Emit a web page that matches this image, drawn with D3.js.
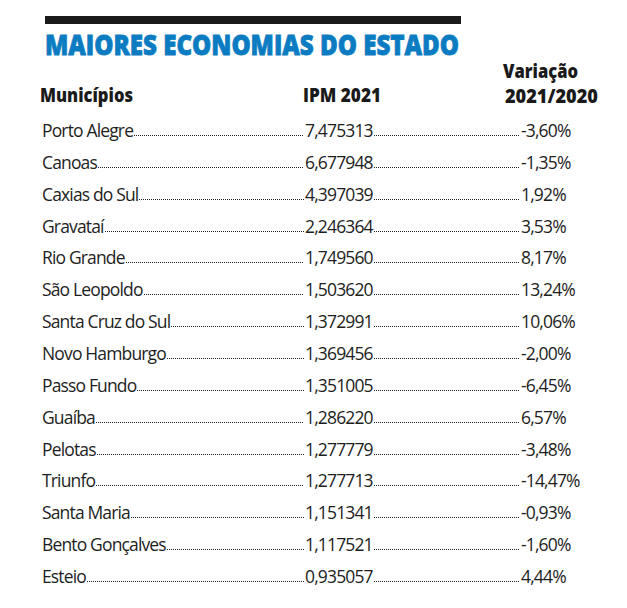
<!DOCTYPE html>
<html><head><meta charset="utf-8">
<script src="https://cdn.jsdelivr.net/npm/d3@7"></script>
<style>body{margin:0;background:#fff}</style>
</head><body>
<script>
const title = "MAIORES ECONOMIAS DO ESTADO";
const headers = ["Municípios", "IPM 2021", "Variação", "2021/2020"];
const municipios = ["Porto Alegre","Canoas","Caxias do Sul","Gravataí","Rio Grande","São Leopoldo","Santa Cruz do Sul","Novo Hamburgo","Passo Fundo","Guaíba","Pelotas","Triunfo","Santa Maria","Bento Gonçalves","Esteio"];
const ipm = ["7,475313","6,677948","4,397039","2,246364","1,749560","1,503620","1,372991","1,369456","1,351005","1,286220","1,277779","1,277713","1,151341","1,117521","0,935057"];
const variacao = ["-3,60%","-1,35%","1,92%","3,53%","8,17%","13,24%","10,06%","-2,00%","-6,45%","6,57%","-3,48%","-14,47%","-0,93%","-1,60%","4,44%"];

const W = 627, H = 608;
const svg = d3.select("body").append("svg").attr("width", W).attr("height", H);

svg.append("rect").attr("x",45).attr("y",16).attr("width",416).attr("height",8).attr("fill","#1a1a1a");
svg.append("text").attr("x",45).attr("y",55).text(title)
  .attr("font-family","Open Sans").attr("font-weight",800).attr("font-size",28)
  .attr("fill","#0b7cc1").attr("stroke","#0b7cc1").attr("stroke-width",0.8)
  .attr("textLength",414).attr("lengthAdjust","spacingAndGlyphs");

const hf = {"font-family":"Open Sans","font-weight":800,"font-size":18.5,"fill":"#1a1a1a"};
function ht(x,y,t,len){ const e=svg.append("text").attr("x",x).attr("y",y).text(t); for(const k in hf) e.attr(k,hf[k]); e.attr("textLength",len).attr("lengthAdjust","spacingAndGlyphs"); return e;}
ht(40,102,headers[0],93);
ht(303,102,headers[1],78);
ht(503,78,headers[2],75);
ht(505,103,headers[3],93);

const y = d3.scalePoint().domain(municipios).range([137, 583]);
const xName = 42, xVal = 305, xVar = 521;
const font = {"font-family":"Open Sans","font-size":17.5,"fill":"#1e1e1e","letter-spacing":-0.85};

const rows = svg.append("g").selectAll("g").data(municipios).join("g")
  .attr("transform", d => `translate(0,${Math.round(y(d))})`);

rows.each(function(d,i){
  const g = d3.select(this);
  const add = (x,t) => { const e = g.append("text").attr("x",x).attr("y",0).text(t); for(const k in font) e.attr(k,font[k]); return e; };
  const n = add(xName, d);
  const v = add(xVal, ipm[i]);
  add(xVar, variacao[i]);
  const nEnd = Math.round(xName + n.node().getComputedTextLength() + 1);
  const vEnd = Math.round(xVal + v.node().getComputedTextLength() + 1);
  const dots = [[nEnd, xVal-1],[vEnd, xVar-1]];
  dots.forEach(([a,b]) => {
    g.append("line").attr("x1",a).attr("x2",b).attr("y1",-1.5).attr("y2",-1.5)
      .attr("stroke","#222").attr("stroke-width",1.2).attr("stroke-dasharray","1,1");
  });
});
</script>
</body></html>
